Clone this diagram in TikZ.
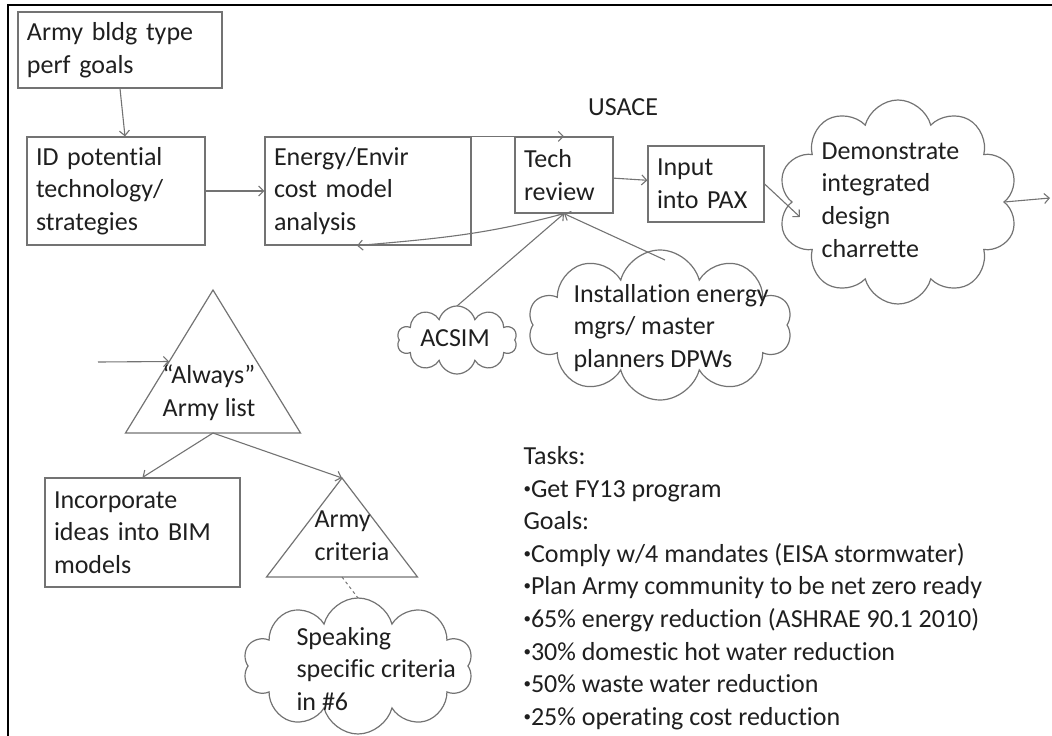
\documentclass[tikz,border=0pt]{standalone}
\usepackage{fontspec}
\setmainfont{Carlito}[Ligatures=NoCommon]
\usetikzlibrary{shapes.geometric,shapes.symbols,arrows.meta}
\definecolor{linegray}{gray}{0.45}
\definecolor{inkgray}{gray}{0.12}
\newcommand{\dotbul}{\raisebox{0.32ex}{\fontsize{15}{15}\selectfont•}}
\tikzset{
  box/.style={draw=linegray, line width=1.2pt, inner xsep=9pt, align=left, text=inkgray},
  puff/.style={cloud, cloud puffs=10, cloud ignores aspect, draw=linegray, line width=1.2pt, inner sep=0pt, outer sep=0pt},
  tri/.style={isosceles triangle, isosceles triangle stretches, shape border rotate=90, draw=linegray, line width=1.2pt, inner sep=0pt, outer sep=0pt},
  arr/.style={draw=linegray, line width=1.1pt, -{Straight Barb[length=5pt,width=10pt]}},
  txt/.style={align=left, text=inkgray}
}
\begin{document}
\begin{tikzpicture}[x=1pt, y=-1pt, font=\fontsize{26}{32.6}\selectfont]
    \useasboundingbox (0,0) rectangle (1052,736);
    \draw [line width=2.6pt] (8,736) -- (8,5) -- (1052,5);

    \node [box, text width=186pt, minimum height=76pt] (goals) at (120,50) {Army bldg type\\perf goals};
    \node [box, text width=160pt, minimum height=108pt] (idtech) at (116,191) {ID potential\\technology/\\strategies};
    \node [box, text width=188pt, minimum height=108pt] (energy) at (368,191) {Energy/Envir\\cost model\\analysis};
    \node [box, text width=80pt, minimum height=76pt] (tech) at (564,175) {Tech\\review};
    \node [box, text width=98pt, minimum height=76pt] (input) at (706,184) {Input\\into PAX};
    \node [txt] (usace) at (623,107) {USACE};

    \node [puff, minimum width=240pt, minimum height=204pt] (demo) at (898,202) {};
    \node [txt, anchor=west] (demotext) at (818,200) {Demonstrate\\integrated\\design\\charrette};
    \node [puff, minimum width=120pt, minimum height=68pt] (acsim) at (457,340) {};
    \node [txt] (acsimtext) at (455,338) {ACSIM};
    \node [puff, minimum width=264pt, minimum height=150pt] (inst) at (660,325) {};
    \node [txt, anchor=west] (insttext) at (570,328) {Installation energy\\mgrs/ master\\planners DPWs};

    \node [tri, minimum width=175pt, minimum height=143pt, anchor=apex] (always) at (213,290) {};
    \node [txt, align=center] (alwaystext) at (209,393) {“Always”\\Army list};
    \node [box, text width=177pt, minimum height=109pt] (incorp) at (142.5,532.5) {Incorporate\\ideas into BIM\\models};
    \node [tri, minimum width=151pt, minimum height=99pt, anchor=apex] (crit) at (342,478) {};
    \node [txt, anchor=west] (crittext) at (311,536) {Army\\criteria};
    \node [puff, minimum width=230pt, minimum height=136pt] (speak) at (358,666) {};
    \node [txt, anchor=west] (speaktext) at (293,669) {Speaking\\specific criteria\\in \#6};

    \node [txt, anchor=west] (tasks) at (520,588) {Tasks:\\\dotbul Get FY13 program\\Goals:\\\dotbul Comply w/4 mandates (EISA stormwater)\\\dotbul Plan Army community to be net zero ready\\\dotbul 65\% energy reduction (ASHRAE 90.1 2010)\\\dotbul 30\% domestic hot water reduction\\\dotbul 50\% waste water reduction\\\dotbul 25\% operating cost reduction};

    \coordinate (inL) at (98,362);
    \coordinate (outR) at (1050,198);

    \draw [arr] (goals.south) -- ([xshift=9pt]idtech.north);
    \draw [arr] (idtech) -- (energy);
    \draw [arr] (energy.north east) -- (tech.north);
    \draw [arr] (tech) -- (input);
    \draw [arr] (tech.south) to[out=195, in=5] ([xshift=-11pt]energy.south);
    \draw [arr] (acsim.north) -- (tech.south);
    \draw [arr] ([shift={(5,10)}]inst.north) -- (tech.south);
    \draw [arr] (input.east) -- ([shift={(8,15)}]demo.west);
    \draw [arr] (demo.east) -- (outR);
    \draw [arr] (inL) -- (always.left side);
    \draw [arr] (always.lower side) -- (incorp.north);
    \draw [arr] (always.lower side) -- (crit.apex);
    \draw [draw=linegray, line width=1pt, dashed] (crit.lower side) -- (speak.north);
\end{tikzpicture}
\end{document}
